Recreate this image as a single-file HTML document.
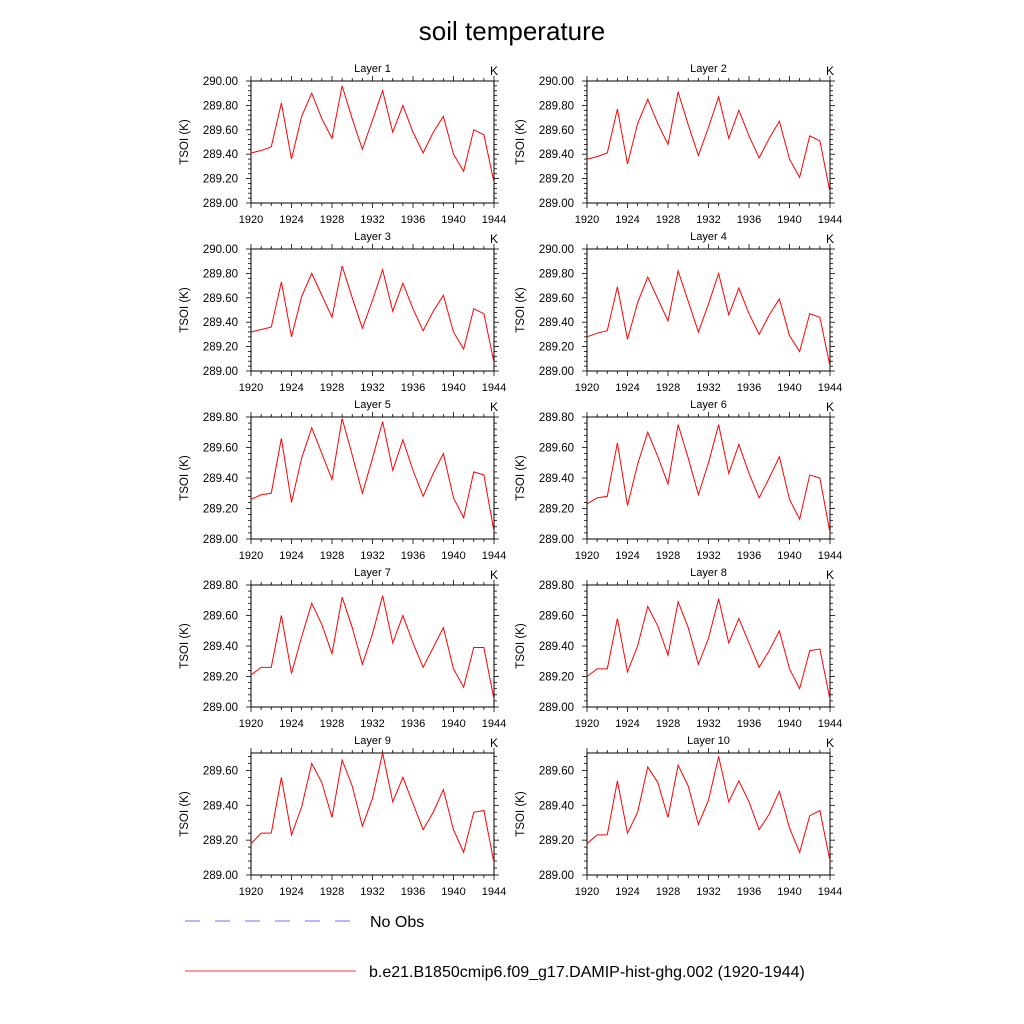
<!DOCTYPE html>
<html><head><meta charset="utf-8"><style>
body{margin:0;background:#fff}
svg{display:block;font-family:"Liberation Sans",sans-serif}
</style></head><body>
<svg id="chart" width="1024" height="1024" viewBox="0 0 1024 1024">
<text x="512" y="40" text-anchor="middle" font-size="26">soil temperature</text>
<g>
<line x1="185" y1="921" x2="353" y2="921" stroke="#8c8cff" stroke-width="1.2" stroke-dasharray="15,15"/>
<text x="370" y="927" font-size="16">No Obs</text>
<line x1="185" y1="971" x2="356" y2="971" stroke="#ff6060" stroke-width="1.2"/>
<text x="369" y="977" font-size="16">b.e21.B1850cmip6.f09_g17.DAMIP-hist-ghg.002 (1920-1944)</text>
</g>
</svg>
<script>
const years = [1920,1921,1922,1923,1924,1925,1926,1927,1928,1929,1930,1931,1932,1933,1934,1935,1936,1937,1938,1939,1940,1941,1942,1943,1944];
const xTickLabels = ["1920","1924","1928","1932","1936","1940","1944"];
const layerNames = ["Layer 1","Layer 2","Layer 3","Layer 4","Layer 5","Layer 6","Layer 7","Layer 8","Layer 9","Layer 10"];
const yMaxes = [290.0,290.0,290.0,290.0,289.8,289.8,289.8,289.8,289.7,289.7];
const yMin = 289.0;
const layer1 = [289.41,289.43,289.46,289.82,289.36,289.71,289.90,289.69,289.53,289.96,289.69,289.44,289.68,289.92,289.58,289.80,289.58,289.41,289.58,289.71,289.40,289.26,289.60,289.56,289.17];
const layer2 = [289.36,289.38,289.41,289.77,289.32,289.65,289.85,289.65,289.48,289.91,289.64,289.39,289.62,289.87,289.53,289.76,289.55,289.37,289.53,289.67,289.36,289.21,289.55,289.51,289.09];
const layer3 = [289.32,289.34,289.36,289.73,289.28,289.61,289.80,289.62,289.44,289.86,289.60,289.35,289.58,289.83,289.49,289.72,289.51,289.33,289.49,289.62,289.32,289.18,289.51,289.47,289.07];
const layer4 = [289.28,289.31,289.33,289.69,289.26,289.56,289.77,289.59,289.41,289.82,289.57,289.32,289.55,289.80,289.46,289.68,289.47,289.30,289.46,289.59,289.29,289.16,289.47,289.44,289.04];
const layer5 = [289.26,289.29,289.30,289.66,289.24,289.53,289.73,289.56,289.39,289.79,289.55,289.30,289.53,289.77,289.45,289.65,289.45,289.28,289.43,289.56,289.27,289.14,289.44,289.42,289.05];
const layer6 = [289.23,289.27,289.28,289.63,289.22,289.49,289.70,289.54,289.36,289.75,289.53,289.29,289.50,289.75,289.43,289.62,289.43,289.27,289.40,289.54,289.26,289.13,289.42,289.40,289.04];
const layer7 = [289.21,289.26,289.26,289.60,289.22,289.46,289.68,289.54,289.35,289.72,289.52,289.28,289.48,289.73,289.42,289.60,289.42,289.26,289.39,289.52,289.25,289.13,289.39,289.39,289.05];
const layer8 = [289.20,289.25,289.25,289.58,289.23,289.40,289.66,289.53,289.34,289.69,289.52,289.28,289.45,289.71,289.42,289.58,289.42,289.26,289.37,289.50,289.25,289.12,289.37,289.38,289.05];
const layer9 = [289.18,289.24,289.24,289.56,289.23,289.39,289.64,289.53,289.33,289.66,289.51,289.28,289.44,289.70,289.42,289.56,289.41,289.26,289.36,289.49,289.26,289.13,289.36,289.37,289.07];
const layer10 = [289.18,289.23,289.23,289.54,289.24,289.36,289.62,289.53,289.33,289.63,289.51,289.29,289.43,289.68,289.42,289.54,289.42,289.26,289.35,289.48,289.27,289.13,289.34,289.37,289.08];
const allLayers = [layer1,layer2,layer3,layer4,layer5,layer6,layer7,layer8,layer9,layer10];

const NS = "http://www.w3.org/2000/svg";
const svg = document.getElementById("chart");
function mk(tag, attrs, parent){const e=document.createElementNS(NS,tag);for(const k in attrs)e.setAttribute(k,attrs[k]);parent.appendChild(e);return e;}
const colX = [251, 587];
const rowY = [81, 249, 417, 585, 753];
const W = 243, H = 122;

allLayers.forEach((vals, i) => {
  const x0 = colX[i % 2], y0 = rowY[Math.floor(i / 2)];
  const yMax = yMaxes[i];
  const xs = v => x0 + (v - years[0]) / (years[years.length-1] - years[0]) * W;
  const ys = v => y0 + H - (v - yMin) / (yMax - yMin) * H;
  const g = mk("g", {}, svg);
  
  
  const frame = mk("rect", {x:x0, y:y0, width:W, height:H, fill:"none", stroke:"#000", "stroke-width":1}, g);
  
  
  // x ticks
  for (let yr = years[0]; yr <= years[years.length-1]; yr++) {
    const major = (yr - years[0]) % 4 === 0;
    const len = major ? 5 : 3;
    const xx = xs(yr);
    mk("line", {x1:xx, y1:y0+H, x2:xx, y2:y0+H+len, stroke:"#000", "stroke-width":0.8}, g);
    mk("line", {x1:xx, y1:y0, x2:xx, y2:y0-len, stroke:"#000", "stroke-width":0.8}, g);
  }
  xTickLabels.forEach(lbl => {
    const t = mk("text", {x:xs(+lbl), y:y0+H+20, "text-anchor":"middle", "font-size":11}, g);
    t.textContent = lbl;
    
    
  });
  // y ticks
  const nMinor = Math.round((yMax - yMin) / 0.04);
  for (let k = 0; k <= nMinor; k++) {
    const v = yMin + k * 0.04;
    const major = k % 5 === 0;
    const len = major ? 5 : 3;
    const yy = ys(v);
    mk("line", {x1:x0-len, y1:yy, x2:x0, y2:yy, stroke:"#000", "stroke-width":0.8}, g);
    mk("line", {x1:x0+W, y1:yy, x2:x0+W+len, y2:yy, stroke:"#000", "stroke-width":0.8}, g);
    if (major) {
      const t = mk("text", {x:x0-13, y:yy+4, "text-anchor":"end", "font-size":11.5}, g);
      t.textContent = v.toFixed(2);
      
      
    }
  }
  const yt = mk("text", {x:0, y:0, "text-anchor":"middle", "font-size":11.5, transform:`translate(${x0-63},${y0+H/2}) rotate(-90)`}, g);
  yt.textContent = "TSOI  (K)";
  
  
  const tt = mk("text", {x:x0+W/2, y:y0-9, "text-anchor":"middle", "font-size":11}, g);
  tt.textContent = layerNames[i];
  
  
  const ku = mk("text", {x:x0+W, y:y0-6, "text-anchor":"middle", "font-size":12}, g);
  ku.textContent = "K";
  
  
  const pts = vals.map((v, j) => xs(years[j]).toFixed(2) + "," + ys(v).toFixed(2)).join(" ");
  const pl = mk("polyline", {points:pts, fill:"none", stroke:"#ff0000", "stroke-width":1}, g);
  
  
});
</script>
</body></html>
